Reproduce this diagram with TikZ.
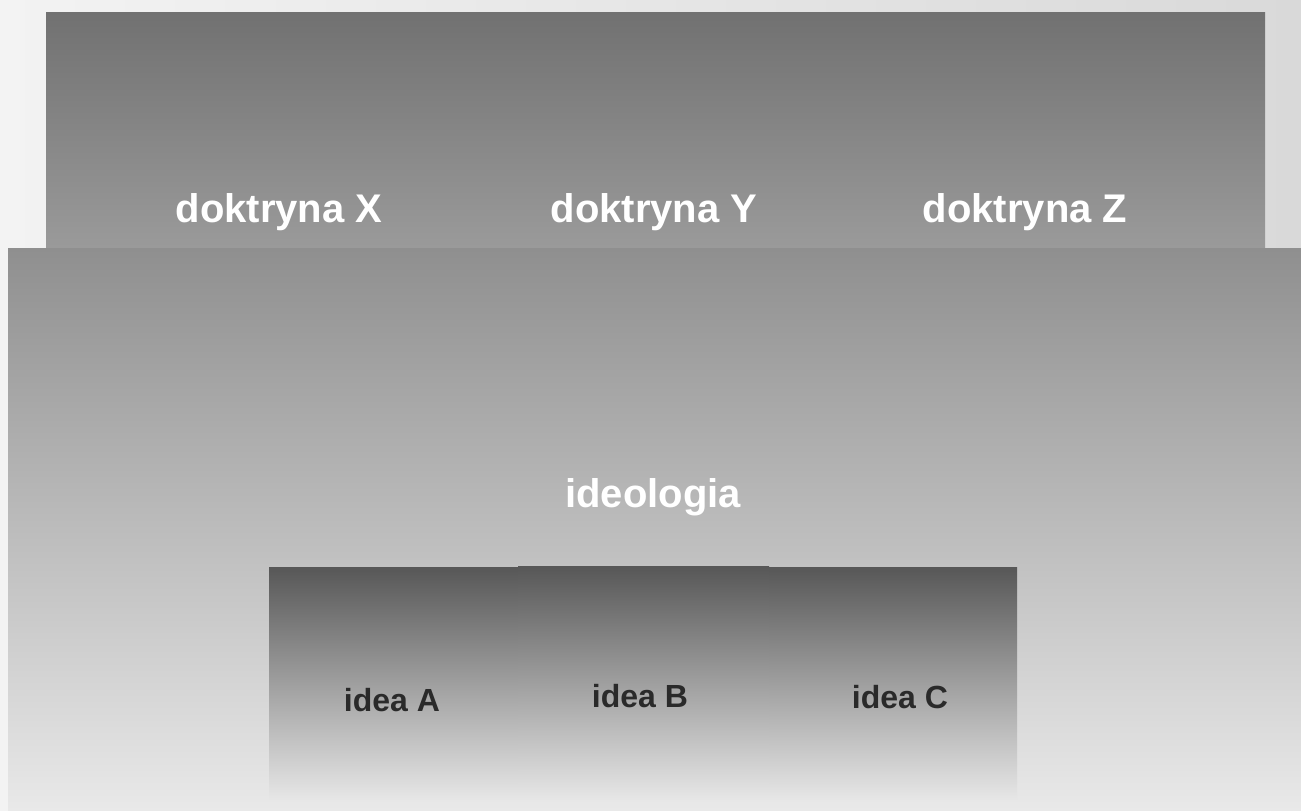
\documentclass[tikz,border=0pt]{standalone}
\usepackage{fontspec}
\setmainfont{Liberation Sans}
\definecolor{bgL}{HTML}{F3F3F3}
\definecolor{bgR}{HTML}{D9D9D9}
\definecolor{topT}{HTML}{717171}
\definecolor{topB}{HTML}{9A9A9A}
\definecolor{bigT}{HTML}{8F8F8F}
\definecolor{bigB}{HTML}{E9E9E9}
\definecolor{ideaT}{HTML}{575757}
\definecolor{ideaB}{HTML}{E7E7E7}
\definecolor{ideatext}{HTML}{2A2A2A}
\tikzset{
  panel/.style={rectangle, inner sep=0pt, outer sep=0pt, draw=none, anchor=north west},
  toppanel/.style={panel, top color=topT, bottom color=topB},
  bigpanel/.style={panel, top color=bigT, bottom color=bigB},
  ideapanel/.style={panel, top color=ideaT, bottom color=ideaB},
  bigtext/.style={anchor=base, inner sep=0pt, text=white, font=\fontsize{40}{48}\selectfont\bfseries},
  ideatxt/.style={anchor=base, inner sep=0pt, text=ideatext, font=\fontsize{32}{38}\selectfont\bfseries}
}
\begin{document}
\begin{tikzpicture}[x=1pt,y=-1pt]
\useasboundingbox (0,0) rectangle (1301,811);
\shade[left color=bgL, right color=bgR] (0,0) rectangle (1301,811);
\node[toppanel, minimum width=1219pt, minimum height=235pt] (top) at (46,12) {};
\node[bigpanel, minimum width=1293pt, minimum height=563pt] (big) at (8,248) {};
\node[ideapanel, minimum width=249pt, minimum height=233pt] (boxA) at (269,567) {};
\node[ideapanel, minimum width=251pt, minimum height=234pt] (boxB) at (518,566) {};
\node[ideapanel, minimum width=248pt, minimum height=233pt] (boxC) at (769,567) {};
\node[bigtext] (dX) at (279,222) {doktryna X};
\node[bigtext] (dY) at (654,222) {doktryna Y};
\node[bigtext] (dZ) at (1025,222) {doktryna Z};
\node[bigtext] (ideo) at (653,507) {ideologia};
\node[ideatxt] (iA) at (392,711) {idea A};
\node[ideatxt] (iB) at (640,707) {idea B};
\node[ideatxt] (iC) at (900,708) {idea C};
\end{tikzpicture}
\end{document}
